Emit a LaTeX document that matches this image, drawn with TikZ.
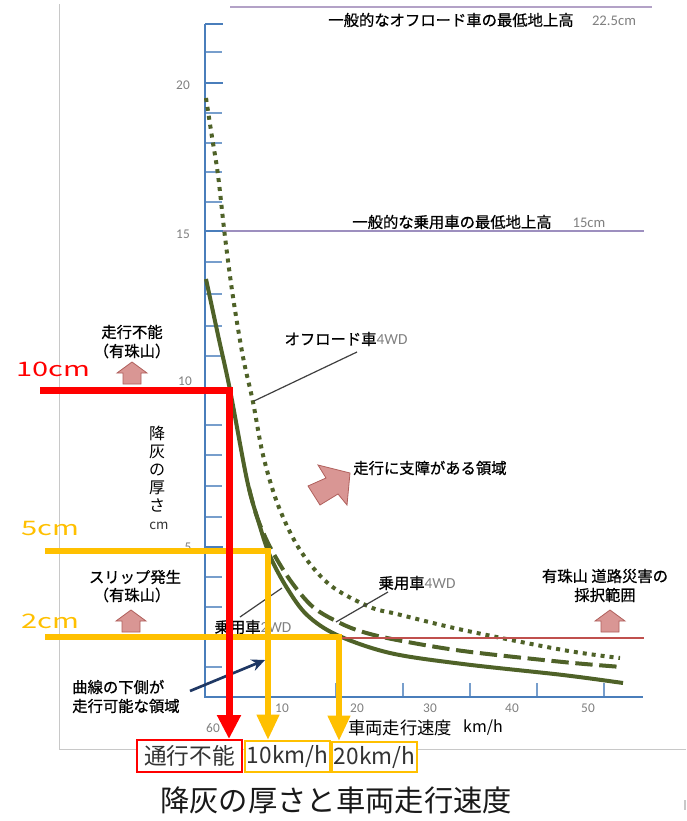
\documentclass[tikz,border=0pt]{standalone}
\usepackage{fontspec}
\usepackage{graphicx}
\setmainfont{Noto Sans CJK JP}
\newfontfamily\jpb[FakeBold=0.8]{Noto Sans CJK JP}
\newfontfamily\numf{Carlito}
\usetikzlibrary{arrows.meta}
\definecolor{axisblue}{HTML}{4A7EBB}
\definecolor{curvegreen}{HTML}{4F6228}
\definecolor{ygold}{HTML}{FFC000}
\definecolor{pinkf}{HTML}{D99694}
\definecolor{pinkd}{HTML}{B0605C}
\definecolor{lav}{HTML}{B3A2C7}
\definecolor{lavd}{HTML}{9D8FBF}
\definecolor{navyb}{HTML}{1F3864}
\definecolor{tgray}{HTML}{808080}
\definecolor{framegray}{HTML}{C8C8C8}
\definecolor{thinred}{HTML}{C0504D}
\begin{document}
\begin{tikzpicture}[x=0.75pt,y=-0.75pt,
  jp/.style={font=\jpb\fontsize{11.5}{13}\selectfont, inner sep=0pt, text=black},
  num/.style={font=\numf\fontsize{10}{12}\selectfont, text=tgray, inner sep=0pt},
  tickmin/.style={draw=axisblue!75, line width=1.4pt},
  tickmaj/.style={draw=axisblue, line width=2pt},
  curve/.style={draw=curvegreen, line width=3pt},
  leader/.style={draw=black!75, line width=0.9pt},
  redthick/.style={draw=red, line width=5.25pt, -{Triangle[width=17pt,length=18pt]}},
  yelthick/.style={draw=ygold, line width=4.5pt, -{Triangle[width=16pt,length=19pt]}},
  bigcm/.style={font=\fontsize{15}{18}\selectfont, inner sep=0pt},
  boxtxt/.style={font=\fontsize{17}{20}\selectfont, text=black!80, inner sep=0pt, fill=white, line width=1.5pt},
  uparr/.pic={\path[fill=pinkf, draw=pinkd, line width=0.6pt] (0,0) -- (15,11) -- (9,11) -- (9,22) -- (-9,22) -- (-9,11) -- (-15,11) -- cycle;}
]
\useasboundingbox (0,0) rectangle (686,821);
\fill[white] (0,0) rectangle (686,821);
% frame
\draw[framegray, line width=0.75pt] (59,4) -- (59,749) -- (686,749);
\draw[framegray, line width=1pt] (685,800) -- (685,810);
% reference lines
\draw[lav, line width=2pt] (230,7) -- (652,7);
\draw[lavd, line width=1.1pt] (205,231) -- (644,231);
% axes
\coordinate (O) at (205,697);
\coordinate (Ytop) at (205,24);
\coordinate (Xend) at (643,697);
\foreach \yy in {52,113,143,172,202,262,294,326,356,425,455,486,517,577,607,637,667}
  \draw[tickmin] (205,\yy) -- (222,\yy);
\foreach \yy in {24,83,231,390,547}
  \draw[tickmaj] (205,\yy) -- (223,\yy);
\foreach \xx in {269,336,403,470,537,604}
  \draw[tickmin] (\xx,697) -- (\xx,683);
\draw[axisblue, line width=2.2pt] (Ytop) -- (O) -- (Xend);
% axis numbers
\node[num] (y20) at (183,85) {20};
\node[num] (y15) at (183,234) {15};
\node[num] (y10) at (185,381) {10};
\node[num] (y5) at (188,547) {5};
\node[num] (x10) at (282,708) {10};
\node[num] (x20) at (357,708) {20};
\node[num] (x30) at (430,708) {30};
\node[num] (x40) at (512,708) {40};
\node[num] (x50) at (588,708) {50};
\node[num] (x60) at (213,728) {60};
% axis titles
\node[font=\fontsize{12}{13.5}\selectfont, align=center, inner sep=0pt] (ylab) at (157,469) {降\\灰\\の\\厚\\さ};
\node[font=\fontsize{10}{12}\selectfont, text=black!80, inner sep=0pt] (ycm) at (159,526) {cm};
\node[font=\fontsize{13}{15}\selectfont, inner sep=0pt] (xlab) at (400,728) {車両走行速度};
\node[font=\fontsize{12}{15}\selectfont, inner sep=0pt] (xunit) at (483,728) {km/h};
% reference line labels
\node[jp] (offmin) at (451,20) {一般的なオフロード車の最低地上高};
\node[num, font=\numf\fontsize{11}{13}\selectfont] (offv) at (614,21) {22.5cm};
\node[jp] (carmin) at (452,222) {一般的な乗用車の最低地上高};
\node[num, font=\numf\fontsize{11}{13}\selectfont] (carv) at (589,223) {15cm};
% curves
\draw[curve, dash pattern=on 3pt off 3.75pt] plot[smooth, tension=0.55] coordinates {(206,98) (212,137) (218,175) (225,237) (233,297) (243,357) (253,402) (263,455) (278,505) (300,550) (330,585) (370,607) (397,614) (463,630) (563,650) (620,658)};
\draw[curve, dash pattern=on 13pt off 5pt] plot[smooth, tension=0.55] coordinates {(249,488) (257,517) (270,547) (290,580) (313,607) (340,623) (363,632) (397,640) (463,651) (563,662) (622,667)};
\draw[curve] plot[smooth, tension=0.55] coordinates {(206,279) (218,335) (230,390) (247,480) (258,520) (270,556) (287,588) (307,615) (337,635) (390,653) (463,664) (563,675) (623,683)};
\draw[thinred, line width=0.9pt] (340,638) -- (644,638);
% curve labels and leaders
\node[jp] (offr) at (346,339) {オフロード車{\numf\color{tgray}4WD}};
\coordinate (offr-a) at (357,352);
\coordinate (offr-b) at (254,401);
\draw[leader] (offr-a) -- (offr-b);
\node[jp] (car4) at (417,583) {乗用車{\numf\color{tgray}4WD}};
\coordinate (car4-a) at (388,592);
\coordinate (car4-b) at (336,622);
\draw[leader] (car4-a) -- (car4-b);
\node[jp] (car2) at (253,627) {乗用車{\numf\color{tgray}2WD}};
\coordinate (car2-a) at (282,588);
\coordinate (car2-b) at (240,617);
\draw[leader] (car2-a) -- (car2-b);
% region labels
\node[jp] (imp1) at (132,332) {走行不能};
\node[jp] (imp2) at (132,351) {（有珠山）};
\pic (ua1) at (132,362) {uparr};
\node[jp] (slip1) at (135,577) {スリップ発生};
\node[jp] (slip2) at (132,595) {（有珠山）};
\pic (ua2) at (131,610) {uparr};
\node[jp] (dis1) at (605,576) {有珠山 道路災害の};
\node[jp] (dis2) at (605,595) {採択範囲};
\pic (ua3) at (610,610) {uparr};
\node[jp, anchor=west] (hind) at (353,468) {走行に支障がある領域};
\path[fill=pinkf, draw=pinkd, line width=0.6pt] (350,473) -- (318,465) -- (326,478) -- (308,486) -- (320,505) -- (338,494) -- (347,505) -- cycle;
\node[jp, anchor=west] (ok1) at (72,687) {曲線の下側が};
\node[jp, anchor=west] (ok2) at (72,706) {走行可能な領域};
\coordinate (na) at (190,691);
\coordinate (nb) at (265,660);
\draw[navyb, line width=2pt, -{Stealth[length=10pt,width=9pt]}] (na) -- (nb);
% result boxes
\node[boxtxt, draw=red, minimum width=78.75pt, minimum height=24pt] (b1) at (189.5,756) {通行不能};
\node[boxtxt, draw=ygold, minimum width=63.75pt, minimum height=23.25pt] (b2) at (287.5,756.5) {10km/h};
\node[boxtxt, draw=ygold, minimum width=63.75pt, minimum height=22.5pt] (b3) at (374.5,757) {20km/h};
% thresholds
\node[bigcm, text=ygold] (t5) at (50,528) {\scalebox{1.45}[1]{5cm}};
\node[bigcm, text=ygold] (t2) at (50,621) {\scalebox{1.45}[1]{2cm}};
\node[bigcm, text=red] (t10) at (53,369) {\scalebox{1.45}[1]{10cm}};
\coordinate (y5s) at (45,551);
\coordinate (y5c) at (268,551);
\coordinate (y2s) at (45,637);
\coordinate (y2c) at (339,637);
\coordinate (r10s) at (40,390);
\coordinate (r10c) at (229,390);
\draw[yelthick] (y5s) -- (y5c) -- (y5c |- b2.north);
\draw[yelthick] (y2s) -- (y2c) -- (y2c |- b3.north);
\draw[redthick] (r10s) -- (r10c) -- (r10c |- b1.north);
% title
\node[font=\fontsize{22}{26}\selectfont, text=black!90, inner sep=0pt] (title) at (336,800) {降灰の厚さと車両走行速度};
\end{tikzpicture}
\end{document}
